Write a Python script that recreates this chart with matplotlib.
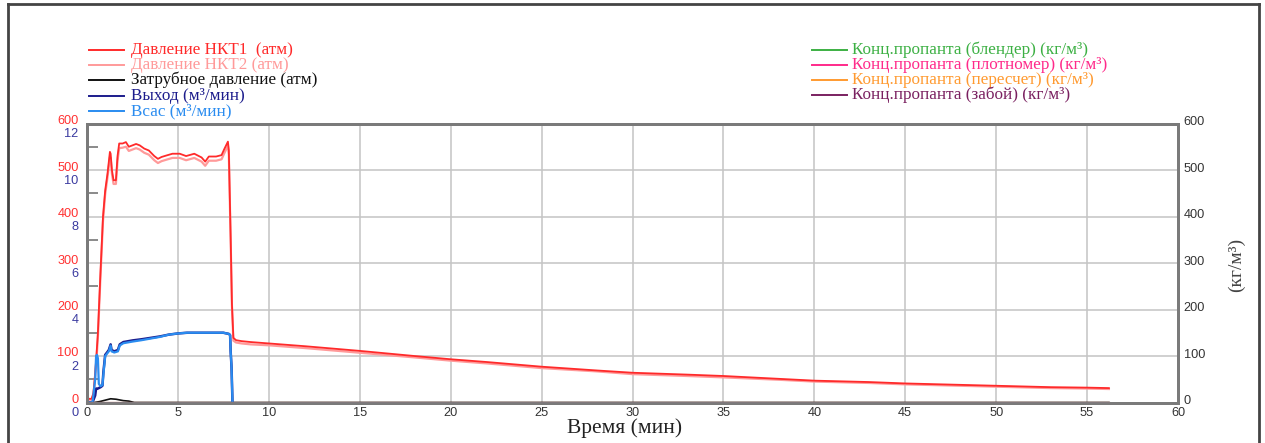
import matplotlib
matplotlib.use("Agg")
import matplotlib.pyplot as plt
from matplotlib.lines import Line2D
from matplotlib.transforms import ScaledTranslation

# ---------------- data ----------------
t_p = [0, 0.25, 0.35, 0.4, 0.5, 0.6, 0.73, 0.88, 1.0, 1.13, 1.26, 1.3, 1.37, 1.46, 1.59, 1.68,
       1.77, 1.96, 2.14, 2.3, 2.5, 2.7, 2.9, 3.15, 3.4, 3.7, 3.9, 4.1, 4.35, 4.7, 5.1, 5.45,
       5.9, 6.3, 6.5, 6.7, 7.1, 7.4, 7.55, 7.75, 7.8, 7.9, 7.97, 8.05, 8.2, 8.5, 9, 10, 12,
       15, 18, 20, 22, 25, 28, 30, 33, 35, 38, 40, 43, 45, 48, 50, 53, 55, 56.2]
p_nkt1 = [8, 8, 20, 40, 90, 150, 270, 400, 456, 493, 539, 535, 500, 478, 478, 530,
          557, 557, 560, 550, 553, 556, 553, 546, 542, 530, 524, 528, 531, 535, 535, 530,
          535, 527, 518, 529, 529, 532, 545, 561, 542, 356, 213, 139, 134, 132, 130, 127, 121,
          111, 100, 93, 87, 77, 69, 64, 60, 57, 51, 47, 44, 41, 38, 36, 33, 32, 31]
p_nkt2 = [6, 6, 16, 34, 80, 140, 260, 390, 448, 485, 528, 526, 492, 470, 470, 520,
          547, 548, 550, 541, 544, 547, 544, 537, 533, 521, 515, 519, 522, 526, 526, 521,
          526, 518, 509, 520, 520, 523, 536, 552, 533, 350, 208, 133, 129, 127, 125, 123, 117,
          107, 97, 90, 84, 74, 67, 61, 57, 54, 49, 45, 42, 39, 36, 34, 31, 30, 29]

t_ann = [0, 0.4, 0.7, 1.0, 1.3, 1.6, 2.0, 2.3, 2.6, 56.2]
p_ann = [0, 0, 2, 5, 8, 7, 4, 3, 0, 0]

t_q = [0, 0.3, 0.35, 0.45, 0.5, 0.55, 0.6, 0.65, 0.75, 0.85, 0.9, 1.0, 1.1, 1.2, 1.3,
       1.35, 1.5, 1.7, 1.8, 2.0, 2.5, 3.0, 3.5, 4.0, 4.5, 5.0, 5.5, 6.0, 6.5, 7.0, 7.5,
       7.8, 7.87, 7.9, 7.95, 8.0]
q_suction = [0, 0, 0.3, 1.0, 2.0, 2.05, 1.9, 0.8, 0.7, 0.75, 1.2, 2.0, 2.1, 2.2, 2.45,
             2.2, 2.15, 2.2, 2.45, 2.55, 2.62, 2.68, 2.75, 2.82, 2.92, 2.97, 3.0, 3.0, 3.0,
             3.0, 3.0, 2.95, 2.9, 2.2, 1.5, 0.0]
q_out = [0, 0, 0.1, 0.3, 0.6, 0.6, 0.6, 0.62, 0.66, 0.72, 1.3, 2.05, 2.15, 2.26, 2.5,
         2.26, 2.2, 2.26, 2.5, 2.6, 2.67, 2.72, 2.78, 2.84, 2.92, 2.97, 3.0, 3.0, 3.0,
         3.0, 3.0, 2.95, 2.9, 2.2, 1.5, 0.0]

t_c = [0, 56.2]
c_blender = [0, 0]
c_dens = [0, 0]
c_calc = [0, 0]
c_bottom = [0, 0]

p_ticks = [0, 100, 200, 300, 400, 500, 600]
q_ticks = [0, 2, 4, 6, 8, 10, 12]
c_ticks = [0, 100, 200, 300, 400, 500, 600]
x_ticks = list(range(0, 61, 5))

left_labels = ["Давление НКТ1  (атм)", "Давление НКТ2 (атм)", "Затрубное давление (атм)",
               "Выход (м³/мин)", "Всас (м³/мин)"]
right_labels = ["Конц.пропанта (блендер) (кг/м³)", "Конц.пропанта (плотномер) (кг/м³)",
                "Конц.пропанта (пересчет) (кг/м³)", "Конц.пропанта (забой) (кг/м³)"]

# ---------------- style ----------------
C_NKT1 = "#ff2a2a"
C_NKT2 = "#ff9a9a"
C_ANN = "#111111"
C_OUT = "#1c1c8c"
C_SUC = "#2a8cf0"
C_BL = "#3cb043"
C_DENS = "#ff2a8a"
C_CALC = "#ff9a30"
C_BOT = "#7a2060"
SPINE = "#7a7a7a"
GRID = "#c4c4c4"

W, H = 1265, 443
fig = plt.figure(figsize=(W / 100, H / 100), dpi=100)
L, R, T, B = 87, 1178, 123.5, 402.5
ax = fig.add_axes([L / W, 1 - B / H, (R - L) / W, (B - T) / H])
axq = ax.twinx()
axc = ax.twinx()
axq.yaxis.tick_left()
axq.yaxis.set_label_position("left")

tick_font = dict(family="Liberation Sans", size=9.2)
serif = "Liberation Serif"

ax.set_xlim(0, 60)
ax.set_ylim(0, 600)
axq.set_ylim(0, 12)
axc.set_ylim(0, 600)

ax.grid(True, color=GRID, linewidth=1.1)
ax.set_axisbelow(True)

# data lines
ax.plot(t_p, p_nkt2, color=C_NKT2, lw=1.6, zorder=3)
ax.plot(t_p, p_nkt1, color=C_NKT1, lw=1.3, zorder=4)
ax.plot(t_ann, p_ann, color=C_ANN, lw=1.2, zorder=3)
axq.plot(t_q, q_out, color=C_OUT, lw=1.8, zorder=3)
axq.plot(t_q, q_suction, color=C_SUC, lw=1.6, zorder=4)
axc.plot(t_c, c_blender, color=C_BL, lw=1.5)
axc.plot(t_c, c_dens, color=C_DENS, lw=1.5)
axc.plot(t_c, c_calc, color=C_CALC, lw=1.5)
axc.plot(t_c, c_bottom, color="#c07090", lw=1.5, clip_on=False)

# ticks
ax.set_xticks(x_ticks)
ax.set_xticklabels([str(v) for v in x_ticks], color="#333333", **tick_font)
ax.tick_params(axis="x", length=0, pad=3)
ax.set_yticks(p_ticks)
ax.set_yticklabels([str(v) for v in p_ticks], color="#ff3030", **tick_font)
ax.set_yticks([50, 150, 250, 350, 450, 550], minor=True)
ax.tick_params(axis="y", which="major", length=0, pad=6)
ax.tick_params(axis="y", which="minor", direction="in", length=8, width=1.2, color="#777777")
for lab in ax.get_yticklabels():
    lab.set_transform(lab.get_transform() + ScaledTranslation(0, 4 / 100, fig.dpi_scale_trans))

axq.set_yticks(q_ticks)
axq.set_yticklabels([str(v) for v in q_ticks], color="#3a3aa0", **tick_font)
axq.tick_params(axis="y", length=0, pad=6)
for lab in axq.get_yticklabels():
    lab.set_transform(lab.get_transform() + ScaledTranslation(0, -9 / 100, fig.dpi_scale_trans))

axc.set_yticks(c_ticks)
axc.set_yticklabels([str(v) for v in c_ticks], color="#333333", **tick_font)
axc.tick_params(axis="y", length=0, pad=4)
for lab in axc.get_yticklabels():
    lab.set_transform(lab.get_transform() + ScaledTranslation(0, 3 / 100, fig.dpi_scale_trans))

for a in (ax, axq, axc):
    for s in a.spines.values():
        s.set_color(SPINE)
        s.set_linewidth(2)

ax.set_xlabel("Время (мин)", family=serif, fontsize=15.5, color="#222222")
ax.xaxis.set_label_coords((625 - L) / (R - L), -(428 - B) / (B - T))
ax.xaxis.label.set_va("center")
axc.set_ylabel("(кг/м³)", family=serif, fontsize=14, color="#444444")
axc.yaxis.set_label_coords((1236 - L) / (R - L), (B - 265) / (B - T))
axc.yaxis.label.set_va("center")

# legends (manual)
def entry(x0, x1, y, color, text, tx):
    fig.add_artist(Line2D([x0 / W, x1 / W], [1 - y / H, 1 - y / H], color=color, lw=1.4,
                          transform=fig.transFigure))
    fig.text(tx / W, 1 - y / H, text, color=color, family=serif, fontsize=12.3,
             va="center", ha="left")

left_colors = [C_NKT1, C_NKT2, C_ANN, C_OUT, C_SUC]
left_y = [50, 65, 80, 96, 111]
for lab, col, y in zip(left_labels, left_colors, left_y):
    entry(89, 124, y, col, lab, 131)

right_colors = [C_BL, C_DENS, C_CALC, C_BOT]
right_y = [50, 65, 80, 95]
for lab, col, y in zip(right_labels, right_colors, right_y):
    entry(812, 847, y, col, lab, 852)

# outer frame
fig.add_artist(Line2D([8 / W, 8 / W], [0, 1 - 4 / H], color="#444444", lw=2, transform=fig.transFigure))
fig.add_artist(Line2D([8 / W, 1259 / W], [1 - 4 / H, 1 - 4 / H], color="#444444", lw=2, transform=fig.transFigure))
fig.add_artist(Line2D([1259 / W, 1259 / W], [0, 1 - 4 / H], color="#444444", lw=2, transform=fig.transFigure))

fig.savefig("out.png", dpi=100)
